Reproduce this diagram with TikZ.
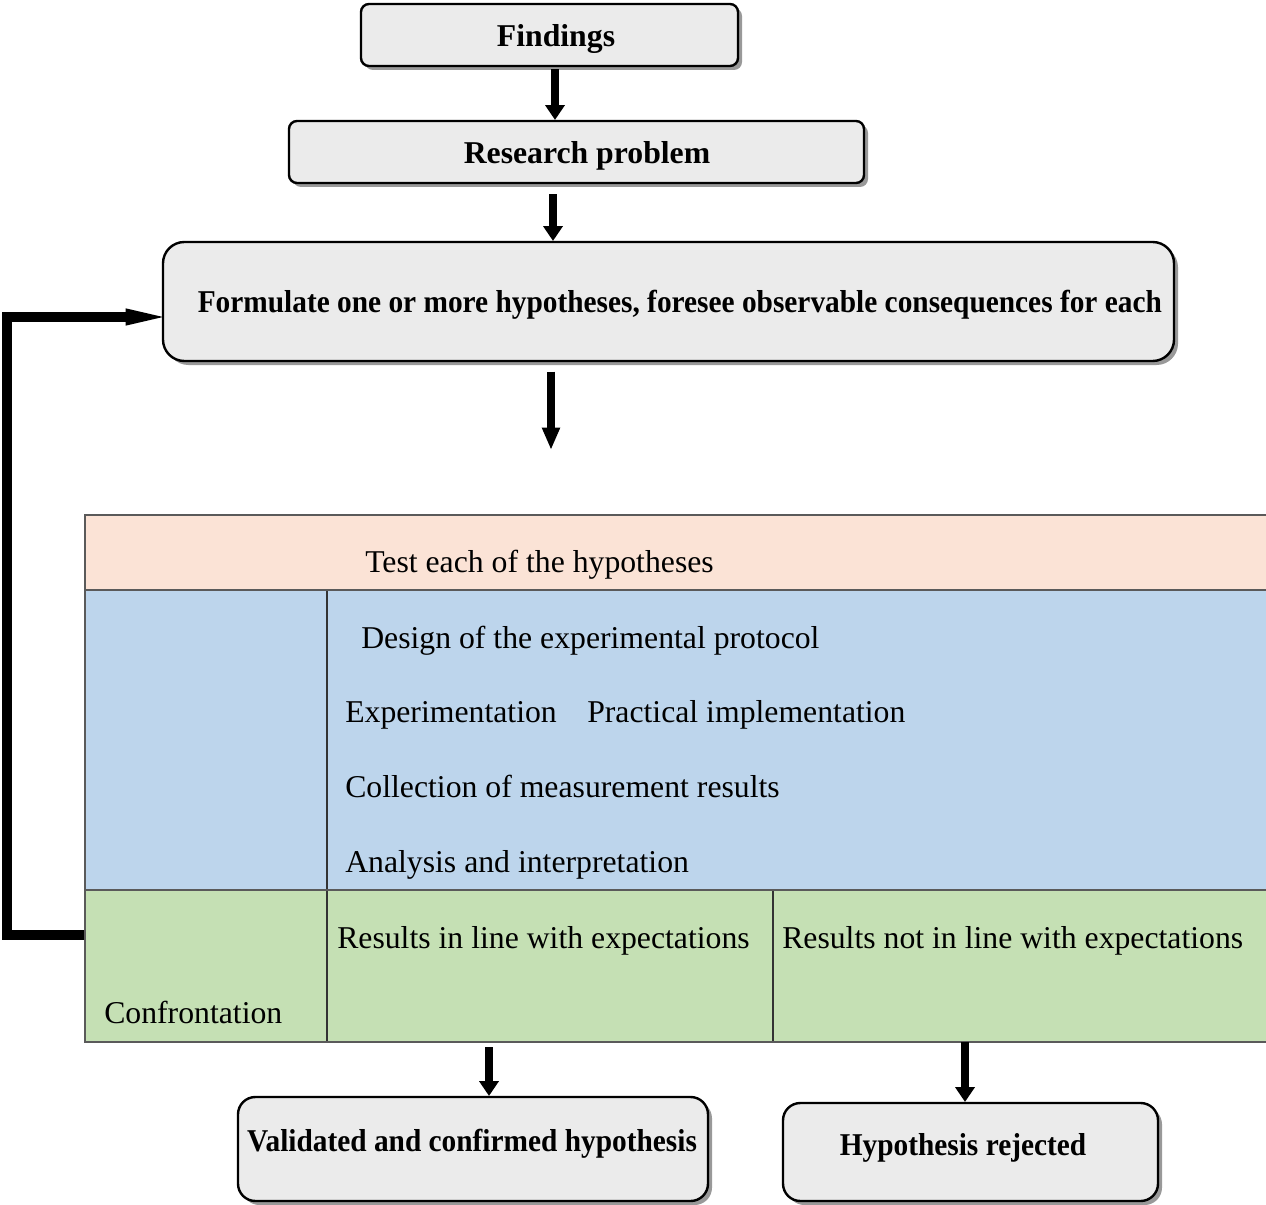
\documentclass[tikz,border=0pt]{standalone}
\usepackage{fontspec}
\setmainfont{Liberation Serif}
\usetikzlibrary{arrows.meta,shadows}
\definecolor{boxgray}{HTML}{EBEBEB}
\definecolor{peach}{HTML}{FBE3D6}
\definecolor{lblue}{HTML}{BDD5EC}
\definecolor{lgreen}{HTML}{C5E0B4}
\definecolor{tline}{HTML}{5A5A5A}
\newcommand{\narrow}[1]{\scalebox{0.925}[1]{#1}}
\newcommand{\boxline}[2]{\raisebox{-#1}[0pt][0pt]{#2}}
\begin{document}
\begin{tikzpicture}[x=0.75pt,y=-0.75pt,
  box/.style={draw=black, line width=1.8pt, fill=boxgray, rounded corners=#1,
    drop shadow={shadow xshift=3pt, shadow yshift=-3pt, fill=black!40, opacity=1},
    inner sep=0pt, font=\bfseries\fontsize{23.8pt}{28pt}\selectfont},
  box/.default=6pt,
  btext/.style={inner sep=0pt, font=\bfseries\fontsize{23.8pt}{28pt}\selectfont},
  ttext/.style={anchor=base west, inner sep=0pt, font=\fontsize{23.8pt}{28pt}\selectfont},
  flow/.style={line width=6.5pt, -{Triangle[length=11pt,width=15pt,line width=0pt]}},
  flowlong/.style={line width=6.5pt, -{Triangle[length=16pt,width=14pt,line width=0pt]}},
  fback/.style={line width=7.5pt, -{Triangle[length=28pt,width=13pt,line width=0pt]}},
  tborder/.style={draw=tline, line width=1.5pt},
  tdiv/.style={draw=black!80, line width=1pt}]
\useasboundingbox (0,0) rectangle (1266,1205);

% top boxes
\node[box=6pt, minimum width=282.75pt, minimum height=46.5pt] (find) at (549.5,35) {\boxline{9pt}{\kern9.75pt Findings}};
\node[box=6pt, minimum width=431.25pt, minimum height=46.5pt] (res) at (576.5,152) {\boxline{9pt}{\kern15.75pt Research problem}};
\node[box=16pt, minimum width=758.25pt, minimum height=89.25pt] (form) at (668.5,301.5) {\boxline{8.6pt}{\kern17pt\narrow{Formulate one or more hypotheses, foresee observable consequences for each}}};

% table
\fill[peach] (85,515) rectangle (1266,590);
\fill[lblue] (85,590) rectangle (1266,890);
\fill[lgreen] (85,890) rectangle (1266,1042);
\draw[tdiv] (327,590) -- (327,1042);
\draw[tdiv] (773,890) -- (773,1042);
\draw[tborder] (1266,515) -- (85,515) -- (85,1042) -- (1266,1042);
\draw[tborder] (85,590) -- (1266,590);
\draw[tborder] (85,890) -- (1266,890);

\node[ttext] (test) at (365,572) {Test each of the hypotheses};
\node[ttext] (design) at (361,648) {Design of the experimental protocol};
\node[ttext] (exper) at (345,722) {Experimentation};
\node[ttext] (pract) at (587,722) {Practical implementation};
\node[ttext] (coll) at (345,797) {Collection of measurement results};
\node[ttext] (anal) at (345,872) {Analysis and interpretation};
\node[ttext] (resin) at (337,948) {Results in line with expectations};
\node[ttext] (resnot) at (782,948) {Results not in line with expectations};
\node[ttext] (conf) at (104,1023) {Confrontation};

% bottom boxes
\node[box=13pt, minimum width=352.5pt, minimum height=78pt] (val) at (473,1149) {};
\node[btext] (valt) at (472,1144) {\narrow{Validated and confirmed hypothesis}};
\node[box=13pt, minimum width=281.25pt, minimum height=73.5pt] (rej) at (970.5,1152) {};
\node[btext] (rejt) at (963,1148) {\narrow{Hypothesis rejected}};

% arrows
\coordinate (a1) at (555,0);
\coordinate (a2) at (553,0);
\coordinate (a3) at (551,0);
\coordinate (a3e) at (551,449);
\coordinate (t1) at (489,1047);
\coordinate (t2) at (965,1042);
\coordinate (fbs) at (84,935);
\coordinate (fbe) at (163,317);
\draw[flow, shorten <=1.5pt] (find.south -| a1) -- (res.north -| a1);
\draw[flow, shorten <=7.5pt] (res.south -| a2) -- (form.north -| a2);
\draw[flowlong, shorten <=7pt] (form.south -| a3) -- (a3e);
\draw[flow] (t1) -- (val.north -| t1);
\draw[flow] (t2) -- (rej.north -| t2);
\draw[fback] (fbs) -- ++(-77,0) |- (fbe);
\end{tikzpicture}
\end{document}
